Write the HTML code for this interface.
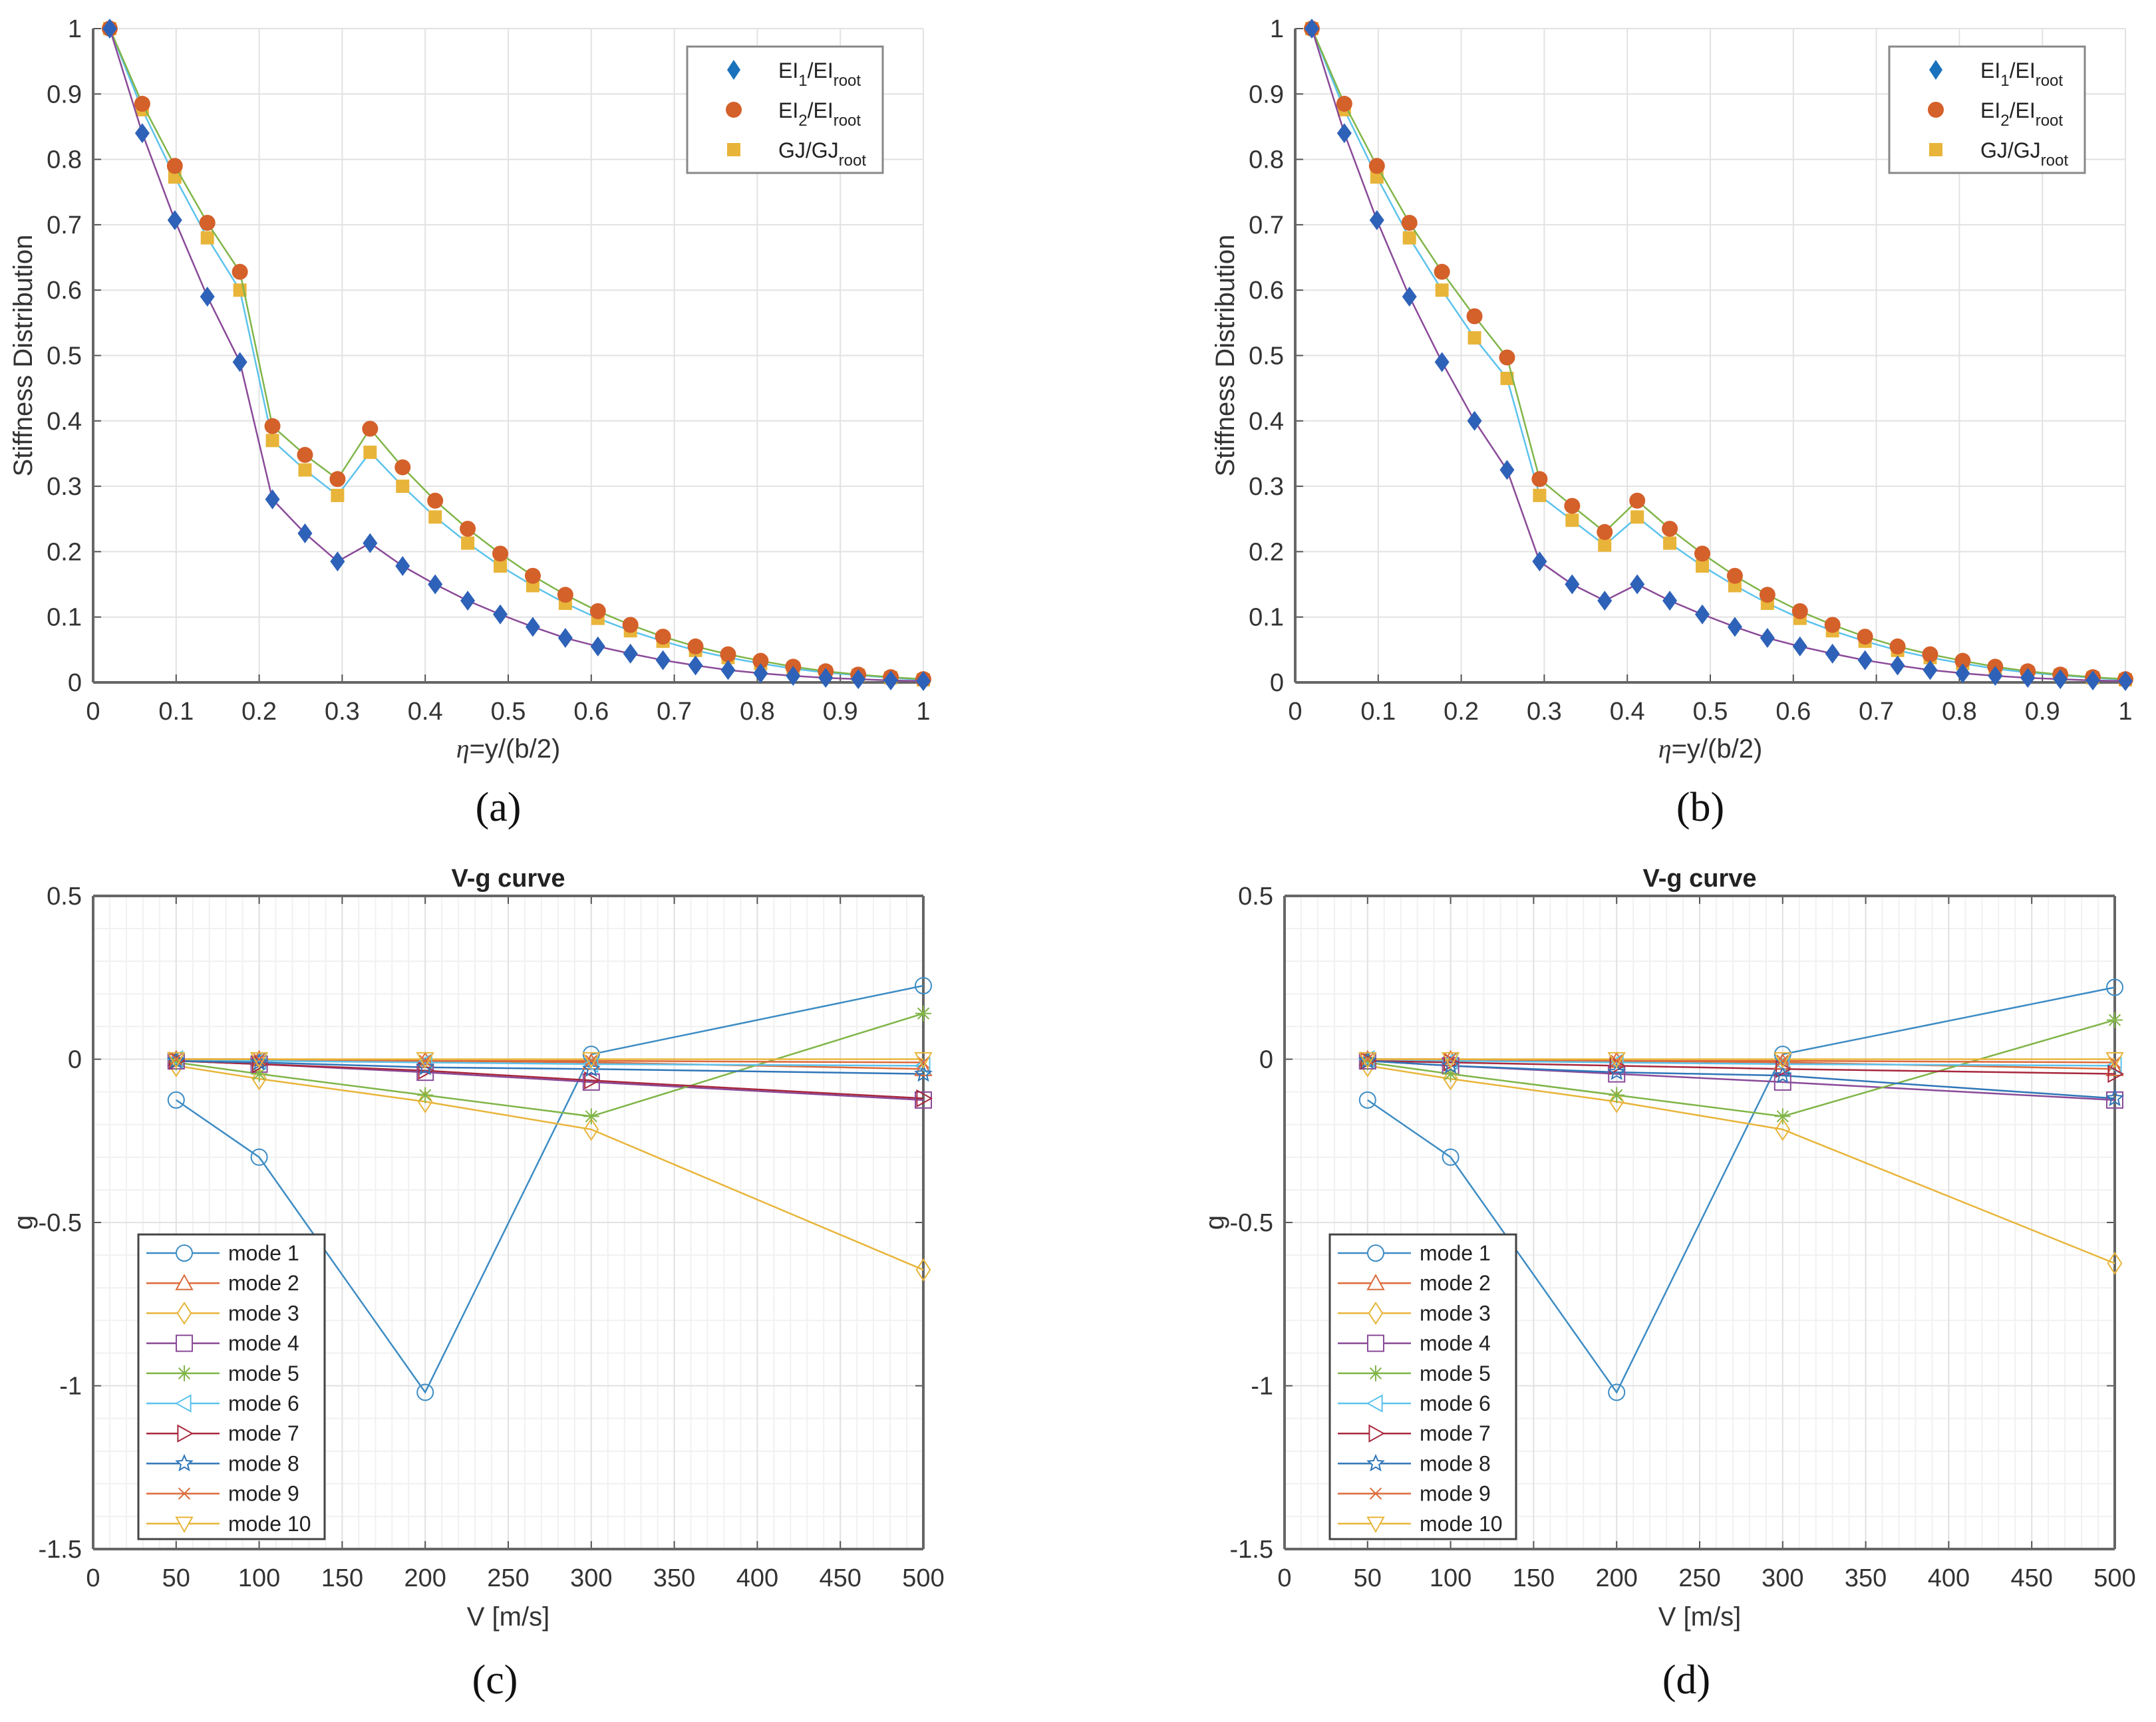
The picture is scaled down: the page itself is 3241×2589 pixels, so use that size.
<!DOCTYPE html>
<html><head><meta charset="utf-8"><style>
html,body{margin:0;padding:0;background:#fff;}
svg{display:block;font-family:"Liberation Sans",sans-serif;}
</style></head><body>
<svg id="fig" width="3241" height="2589" viewBox="0 0 3241 2589" xmlns="http://www.w3.org/2000/svg"></svg>
<script>
// ---- data: stiffness plots ----
const etaPoints = [0.02,0.0592,0.0984,0.1376,0.1768,0.216,0.2552,0.2944,0.3336,0.3728,0.412,0.4512,0.4904,0.5296,0.5688,0.608,0.6472,0.6864,0.7256,0.7648,0.804,0.8432,0.8824,0.9216,0.9608,1.0];
const ei1A = [1,0.84,0.707,0.59,0.49,0.28,0.228,0.185,0.213,0.178,0.15,0.125,0.104,0.085,0.068,0.055,0.044,0.034,0.026,0.019,0.014,0.01,0.007,0.005,0.003,0.002];
const ei2A = [1,0.885,0.79,0.703,0.628,0.392,0.348,0.311,0.388,0.329,0.278,0.235,0.197,0.163,0.134,0.109,0.088,0.07,0.055,0.043,0.033,0.024,0.017,0.012,0.008,0.005];
const gjA  = [1,0.876,0.773,0.68,0.6,0.37,0.325,0.286,0.352,0.3,0.253,0.213,0.178,0.148,0.121,0.098,0.079,0.063,0.049,0.038,0.029,0.021,0.015,0.011,0.007,0.004];
const ei1B = [1,0.84,0.707,0.59,0.49,0.40,0.325,0.185,0.15,0.125,0.15,0.125,0.104,0.085,0.068,0.055,0.044,0.034,0.026,0.019,0.014,0.01,0.007,0.005,0.003,0.002];
const ei2B = [1,0.885,0.79,0.703,0.628,0.56,0.497,0.311,0.27,0.23,0.278,0.235,0.197,0.163,0.134,0.109,0.088,0.07,0.055,0.043,0.033,0.024,0.017,0.012,0.008,0.005];
const gjB  = [1,0.876,0.773,0.68,0.6,0.527,0.465,0.286,0.248,0.21,0.253,0.213,0.178,0.148,0.121,0.098,0.079,0.063,0.049,0.038,0.029,0.021,0.015,0.011,0.007,0.004];
const stiffXTicks = ["0","0.1","0.2","0.3","0.4","0.5","0.6","0.7","0.8","0.9","1"];
const stiffYTicks = ["0","0.1","0.2","0.3","0.4","0.5","0.6","0.7","0.8","0.9","1"];
// ---- data: V-g plots ----
const speeds = [50,100,200,300,500];
const vgXTicks = ["0","50","100","150","200","250","300","350","400","450","500"];
const vgYTicks = ["-1.5","-1","-0.5","0","0.5"];
const modeNames = ["mode 1","mode 2","mode 3","mode 4","mode 5","mode 6","mode 7","mode 8","mode 9","mode 10"];
const gC1=[-0.125,-0.30,-1.02,0.015,0.225], gC2=[0,0,-0.005,-0.01,-0.03], gC3=[-0.02,-0.06,-0.13,-0.215,-0.645],
      gC4=[-0.005,-0.015,-0.04,-0.07,-0.125], gC5=[-0.01,-0.045,-0.11,-0.175,0.14], gC6=[0,-0.005,-0.01,-0.015,-0.02],
      gC7=[-0.005,-0.015,-0.035,-0.065,-0.12], gC8=[-0.005,-0.01,-0.025,-0.03,-0.045], gC9=[0,0,-0.005,-0.005,-0.01], gC10=[0,0,0,0,0];
const gD1=[-0.125,-0.30,-1.02,0.015,0.22], gD2=[0,0,-0.005,-0.01,-0.03], gD3=[-0.02,-0.06,-0.13,-0.215,-0.625],
      gD4=[-0.005,-0.02,-0.045,-0.07,-0.125], gD5=[-0.01,-0.045,-0.11,-0.175,0.12], gD6=[0,-0.005,-0.01,-0.015,-0.02],
      gD7=[-0.005,-0.01,-0.02,-0.03,-0.045], gD8=[-0.005,-0.02,-0.04,-0.05,-0.12], gD9=[0,0,-0.005,-0.005,-0.01], gD10=[0,0,0,0,0];

const NS="http://www.w3.org/2000/svg";
const svg=document.getElementById('fig');
function mk(tag,attrs,parent,text){const e=document.createElementNS(NS,tag);for(const k in attrs)e.setAttribute(k,attrs[k]);if(text!==undefined)e.textContent=text;(parent||svg).appendChild(e);return e;}
const modeColors=["#3d8cc4","#dc6a3a","#e8b53a","#8a4a98","#80b548","#5cc3ec","#a8283e","#2f76b8","#dc6a3a","#e8b53a"];
const modeMarkers=["o","^","d","s","*","<",">","p","x","v"];

function marker(g,type,x,y,s,color,fill){
  let e;
  const st={stroke:color,'stroke-width':2,fill:fill||'none'};
  if(type==='o'){e=mk('circle',Object.assign({cx:x,cy:y,r:s},st),g);}
  else if(type==='s'){e=mk('rect',Object.assign({x:x-s,y:y-s,width:2*s,height:2*s},st),g);}
  else if(type==='d'){e=mk('polygon',Object.assign({points:`${x},${y-s*1.3} ${x+s*0.85},${y} ${x},${y+s*1.3} ${x-s*0.85},${y}`},st),g);}
  else if(type==='^'){e=mk('polygon',Object.assign({points:`${x},${y-s} ${x+s},${y+s*0.8} ${x-s},${y+s*0.8}`},st),g);}
  else if(type==='v'){e=mk('polygon',Object.assign({points:`${x},${y+s} ${x+s},${y-s*0.8} ${x-s},${y-s*0.8}`},st),g);}
  else if(type==='<'){e=mk('polygon',Object.assign({points:`${x-s},${y} ${x+s*0.8},${y-s} ${x+s*0.8},${y+s}`},st),g);}
  else if(type==='>'){e=mk('polygon',Object.assign({points:`${x+s},${y} ${x-s*0.8},${y-s} ${x-s*0.8},${y+s}`},st),g);}
  else if(type==='x'){e=mk('path',Object.assign({d:`M${x-s*0.7},${y-s*0.7}L${x+s*0.7},${y+s*0.7}M${x-s*0.7},${y+s*0.7}L${x+s*0.7},${y-s*0.7}`},st),g);}
  else if(type==='*'){e=mk('path',Object.assign({d:`M${x-s},${y}L${x+s},${y}M${x},${y-s}L${x},${y+s}M${x-s*0.7},${y-s*0.7}L${x+s*0.7},${y+s*0.7}M${x-s*0.7},${y+s*0.7}L${x+s*0.7},${y-s*0.7}`},st),g);}
  else if(type==='p'){let p=[];for(let i=0;i<10;i++){const a=-Math.PI/2+i*Math.PI/5,r=i%2?s*0.45:s;p.push((x+r*Math.cos(a)).toFixed(1)+','+(y+r*Math.sin(a)).toFixed(1));}e=mk('polygon',Object.assign({points:p.join(' ')},st),g);}
  
  
  return e;
}

function axesFrame(name,x0,x1,yT,yB,xmin,xmax,ymin,ymax,xt,yt,minor,box){
  const g=mk('g',{});
  
  
  const sx=v=>x0+(v-xmin)/(xmax-xmin)*(x1-x0);
  const sy=v=>yB-(v-ymin)/(ymax-ymin)*(yB-yT);
  if(minor){
    for(let v=xmin;v<=xmax+1e-9;v+=minor[0]) mk('line',{x1:sx(v),x2:sx(v),y1:yT,y2:yB,stroke:'#f1f1f1','stroke-width':2},g);
    for(let v=ymin;v<=ymax+1e-9;v+=minor[1]) mk('line',{x1:x0,x2:x1,y1:sy(v),y2:sy(v),stroke:'#f1f1f1','stroke-width':2},g);
  }
  xt.forEach(t=>{const v=parseFloat(t),X=sx(v);
    mk('line',{x1:X,x2:X,y1:yT,y2:yB,stroke:'#e2e2e2','stroke-width':2},g);
    mk('line',{x1:X,x2:X,y1:yB,y2:yB-12,stroke:'#555','stroke-width':2},g);
    if(box) mk('line',{x1:X,x2:X,y1:yT,y2:yT+12,stroke:'#555','stroke-width':2},g);
    const tx=mk('text',{x:X,y:yB+56,'text-anchor':'middle','font-size':38,fill:'#333'},g,t);
    
    
  });
  yt.forEach(t=>{const v=parseFloat(t),Y=sy(v);
    mk('line',{x1:x0,x2:x1,y1:Y,y2:Y,stroke:'#e2e2e2','stroke-width':2},g);
    mk('line',{x1:x0,x2:x0+12,y1:Y,y2:Y,stroke:'#555','stroke-width':2},g);
    if(box) mk('line',{x1:x1,x2:x1-12,y1:Y,y2:Y,stroke:'#555','stroke-width':2},g);
    const ty=mk('text',{x:x0-17,y:Y+13,'text-anchor':'end','font-size':38,fill:'#333'},g,t);
    
    
  });
  mk('line',{x1:x0,x2:x1,y1:yB,y2:yB,stroke:'#666','stroke-width':4},g);
  mk('line',{x1:x0,x2:x0,y1:yT,y2:yB,stroke:'#666','stroke-width':4},g);
  if(box){mk('line',{x1:x0,x2:x1,y1:yT,y2:yT,stroke:'#666','stroke-width':4},g);mk('line',{x1:x1,x2:x1,y1:yT,y2:yB,stroke:'#666','stroke-width':4},g);}
  return {g,sx,sy};
}

function stiffPlot(name,x0,x1,e1,e2,gj,cap){
  const yT=43,yB=1026;
  const A=axesFrame(name,x0,x1,yT,yB,0,1,0,1,stiffXTicks,stiffYTicks,null,false);
  const series=[{d:gj,line:'#5cc3ec',m:'s',c:'#e8b53a'},{d:e2,line:'#80b548',m:'o',c:'#d4602a'},{d:e1,line:'#8a4a98',m:'d',c:'#2e62b8'}];
  series.forEach((s,si)=>{
    const sg=mk('g',{},A.g);
    
    
    mk('polyline',{points:s.d.map((v,i)=>A.sx(etaPoints[i])+','+A.sy(v)).join(' '),fill:'none',stroke:s.line,'stroke-width':2.5},sg);
    s.d.forEach((v,i)=>{
      const X=A.sx(etaPoints[i]),Y=A.sy(v);
      let e;
      if(s.m==='o') e=mk('circle',{cx:X,cy:Y,r:12,fill:s.c},sg);
      else if(s.m==='s') e=mk('rect',{x:X-10,y:Y-10,width:20,height:20,fill:s.c},sg);
      else e=mk('polygon',{points:`${X},${Y-15} ${X+11},${Y} ${X},${Y+15} ${X-11},${Y}`,fill:s.c},sg);
      
      
    });
  });
  const lx=x0+893, lg=mk('g',{},A.g);
  
  
  mk('rect',{x:lx,y:70,width:294,height:190,fill:'#fff',stroke:'#888','stroke-width':3},lg);
  mk('polygon',{points:`${lx+70},${90} ${lx+80},${105} ${lx+70},${120} ${lx+60},${105}`,fill:'#1a72bd'},lg);
  mk('circle',{cx:lx+70,cy:165,r:12,fill:'#d4602a'},lg);
  mk('rect',{x:lx+60,y:215,width:20,height:20,fill:'#e8b53a'},lg);
  const labs=[['EI','1','/EI','root'],['EI','2','/EI','root'],['GJ/GJ','','','root']];
  labs.forEach((l,i)=>{
    const t=mk('text',{x:lx+137,y:117+i*60,'font-size':32,fill:'#222'},lg);
    
    
    mk('tspan',{},t,l[0]);
    if(l[1]) mk('tspan',{dy:12,'font-size':24},t,l[1]);
    if(l[2]) mk('tspan',{dy:-12},t,l[2]);
    mk('tspan',{dy:12,'font-size':24},t,l[3]);
  });
  const xl=mk('text',{x:(x0+x1)/2,y:1139,'text-anchor':'middle','font-size':40,fill:'#333'},A.g);
  
  
  mk('tspan',{'font-family':'Liberation Serif','font-style':'italic'},xl,'η');
  mk('tspan',{},xl,'=y/(b/2)');
  const yl=mk('text',{x:0,y:0,transform:`translate(${x0-92},${(yT+yB)/2}) rotate(-90)`,'text-anchor':'middle','font-size':40,fill:'#333'},A.g,'Stiffness Distribution');
  
  
  const c=mk('text',{x:(x0+x1)/2-15,y:1234,'text-anchor':'middle','font-size':62,'font-family':'Liberation Serif',fill:'#111'},A.g,cap);
  
  
}

function vgPlot(name,x0,x1,data,cap){
  const yT=1347,yB=2329;
  const A=axesFrame(name,x0,x1,yT,yB,0,500,-1.5,0.5,vgXTicks,vgYTicks,[10,0.1],true);
  data.forEach((d,mi)=>{
    const sg=mk('g',{},A.g);
    
    
    mk('polyline',{points:d.map((v,i)=>A.sx(speeds[i])+','+A.sy(v)).join(' '),fill:'none',stroke:modeColors[mi],'stroke-width':2.5},sg);
  });
  data.forEach((d,mi)=>{d.forEach((v,i)=>marker(A.g,modeMarkers[mi],A.sx(speeds[i]),A.sy(v),12,modeColors[mi]));});
  const lx=x0+68, ly=1856, lg=mk('g',{},A.g);
  
  
  mk('rect',{x:lx,y:ly,width:280,height:458,fill:'#fff',stroke:'#444','stroke-width':3},lg);
  modeNames.forEach((n,i)=>{
    const Y=ly+28+i*45.2;
    mk('line',{x1:lx+12,x2:lx+122,y1:Y,y2:Y,stroke:modeColors[i],'stroke-width':2.5},lg);
    marker(lg,modeMarkers[i],lx+69,Y,12,modeColors[i],'#fff');
    const t=mk('text',{x:lx+135,y:Y+11,'font-size':32,fill:'#222'},lg,n);
    
    
  });
  const tt=mk('text',{x:(x0+x1)/2,y:1333,'text-anchor':'middle','font-size':38,'font-weight':'bold',fill:'#222'},A.g,'V-g curve');
  
  
  const xl=mk('text',{x:(x0+x1)/2,y:2444,'text-anchor':'middle','font-size':40,fill:'#333'},A.g,'V [m/s]');
  
  
  const yl=mk('text',{x:0,y:0,transform:`translate(${x0-92},${(yT+yB)/2}) rotate(-90)`,'text-anchor':'middle','font-size':40,fill:'#333'},A.g,'g');
  
  
  const c=mk('text',{x:(x0+x1)/2-20,y:2546,'text-anchor':'middle','font-size':62,'font-family':'Liberation Serif',fill:'#111'},A.g,cap);
  
  
}

stiffPlot('stiffness-chart-a',140,1388,ei1A,ei2A,gjA,'(a)');
stiffPlot('stiffness-chart-b',1947,3195,ei1B,ei2B,gjB,'(b)');
vgPlot('vg-chart-c',140,1388,[gC1,gC2,gC3,gC4,gC5,gC6,gC7,gC8,gC9,gC10],'(c)');
vgPlot('vg-chart-d',1931,3179,[gD1,gD2,gD3,gD4,gD5,gD6,gD7,gD8,gD9,gD10],'(d)');
</script>
</body></html>
